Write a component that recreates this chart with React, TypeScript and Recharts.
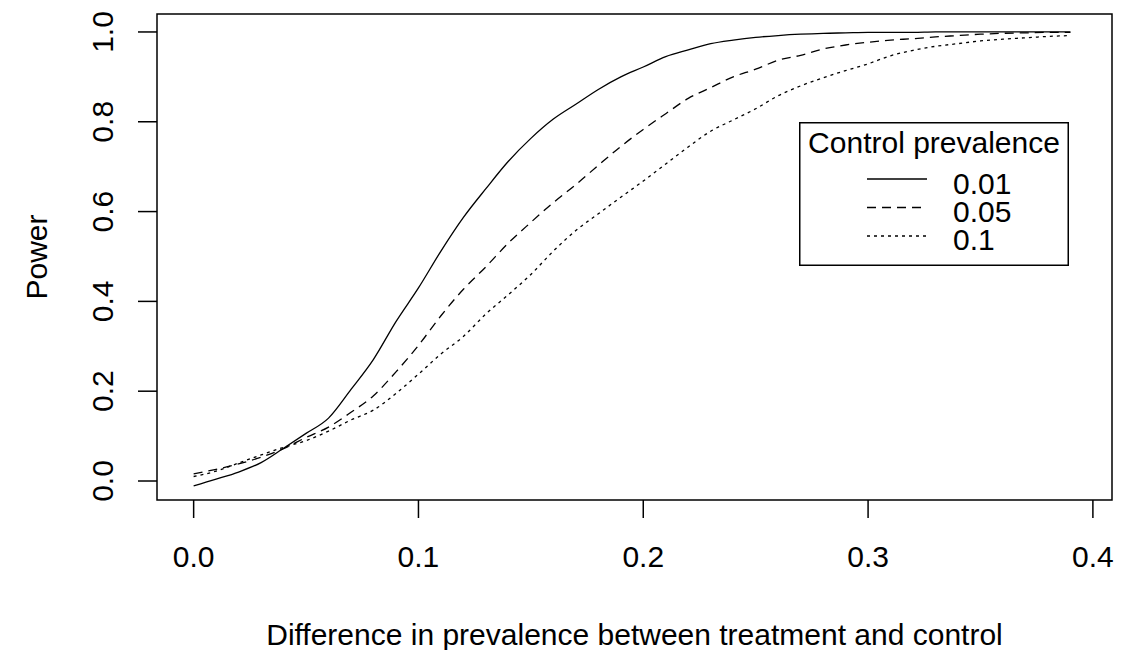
import { LineChart, Line, XAxis, YAxis, ReferenceArea, Legend } from 'recharts';

// difference in prevalence (treatment - control)
const DIFF = [
  0, 0.01, 0.02, 0.03, 0.04, 0.05, 0.06, 0.07, 0.08, 0.09,
  0.1, 0.11, 0.12, 0.13, 0.14, 0.15, 0.16, 0.17, 0.18, 0.19,
  0.2, 0.21, 0.22, 0.23, 0.24, 0.25, 0.26, 0.27, 0.28, 0.29,
  0.3, 0.31, 0.32, 0.33, 0.34, 0.35, 0.36, 0.37, 0.38, 0.39,
];

// power for control prevalence 0.01
const POWER_001 = [
  -0.011, 0.004, 0.02, 0.041, 0.073, 0.106, 0.14, 0.204, 0.271, 0.355,
  0.43, 0.512, 0.587, 0.651, 0.712, 0.763, 0.806, 0.839, 0.872, 0.9,
  0.922, 0.945, 0.96, 0.974, 0.982, 0.988, 0.992, 0.995, 0.997, 0.998,
  0.999, 0.999, 0.999, 1, 1, 1, 1, 1, 1, 1,
];

// power for control prevalence 0.05
const POWER_005 = [
  0.016, 0.026, 0.038, 0.053, 0.072, 0.097, 0.12, 0.153, 0.19, 0.243,
  0.302, 0.368, 0.427, 0.477, 0.53, 0.576, 0.62, 0.66, 0.703, 0.745,
  0.783, 0.818, 0.852, 0.876, 0.9, 0.917, 0.937, 0.948, 0.962, 0.971,
  0.977, 0.982, 0.985, 0.989, 0.992, 0.995, 0.997, 0.998, 0.999, 0.999,
];

// power for control prevalence 0.1
const POWER_01 = [
  0.01, 0.022, 0.04, 0.058, 0.075, 0.09, 0.111, 0.136, 0.158, 0.195,
  0.238, 0.283, 0.322, 0.372, 0.415, 0.46, 0.512, 0.558, 0.595, 0.632,
  0.668, 0.706, 0.744, 0.779, 0.804, 0.829, 0.858, 0.88, 0.898, 0.914,
  0.929, 0.947, 0.959, 0.968, 0.974, 0.98, 0.984, 0.987, 0.99, 0.992,
];

const X_TICKS = [0, 0.1, 0.2, 0.3, 0.4];
const Y_TICKS = [0, 0.2, 0.4, 0.6, 0.8, 1];

const SERIES = [
  { key: 'p001', label: '0.01', values: POWER_001, dash: undefined },
  { key: 'p005', label: '0.05', values: POWER_005, dash: '9 6' },
  { key: 'p01', label: '0.1', values: POWER_01, dash: '3 4' },
];

const data = DIFF.map((x, i) => {
  const row: Record<string, number> = { x };
  SERIES.forEach(s => { row[s.key] = s.values[i]; });
  return row;
});

const W = 1127;
const H = 650;
const PLOT_LEFT = 157;
const PLOT_TOP = 14;
const PLOT_RIGHT = 1112;
const PLOT_BOTTOM = 500;
const X_DOMAIN: [number, number] = [-0.0163, 0.4085];
const Y_DOMAIN: [number, number] = [-0.0423, 1.04];

const FONT = '"Liberation Sans", Arial, sans-serif';
const FS = 30;

function XTick(props: any) {
  const { x, payload } = props;
  return (
    <text x={x} y={PLOT_BOTTOM + 67} textAnchor="middle" fontFamily={FONT} fontSize={FS} fill="#000">
      {Number(payload.value).toFixed(1)}
    </text>
  );
}

function YTick(props: any) {
  const { y, payload } = props;
  return (
    <text
      transform={`translate(${PLOT_LEFT - 44}, ${y}) rotate(-90)`}
      textAnchor="middle"
      fontFamily={FONT}
      fontSize={FS}
      fill="#000"
    >
      {Number(payload.value).toFixed(1)}
    </text>
  );
}

function XTitle(props: any) {
  const { viewBox } = props;
  const cx = viewBox.x + viewBox.width / 2;
  return (
    <text x={cx} y={645} textAnchor="middle" fontFamily={FONT} fontSize={FS} fill="#000">
      Difference in prevalence between treatment and control
    </text>
  );
}

function YTitle() {
  const cy = (PLOT_TOP + PLOT_BOTTOM) / 2;
  return (
    <text transform={`translate(47, ${cy}) rotate(-90)`} textAnchor="middle" fontFamily={FONT} fontSize={FS} fill="#000">
      Power
    </text>
  );
}

function LegendBox() {
  return (
    <svg width={270} height={144} style={{ display: 'block' }}>
      <rect x={0.75} y={0.75} width={268.5} height={142.5} fill="#fff" stroke="#000" strokeWidth={1.5} />
      <text x={135} y={31} textAnchor="middle" fontFamily={FONT} fontSize={FS} fill="#000">
        Control prevalence
      </text>
      {SERIES.map((s, i) => (
        <g key={s.key}>
          <line
            x1={68}
            x2={128}
            y1={57 + i * 28.5}
            y2={57 + i * 28.5}
            stroke="#000"
            strokeWidth={1.3}
            strokeDasharray={s.dash}
          />
          <text x={154} y={72 + i * 28} fontFamily={FONT} fontSize={FS} fill="#000">
            {s.label}
          </text>
        </g>
      ))}
    </svg>
  );
}

export default function App() {
  return (
    <div style={{ position: 'absolute', left: 0, top: 0, width: W, height: H, background: '#fff' }}>
      <LineChart
        width={W}
        height={H}
        data={data}
        margin={{ top: PLOT_TOP, right: W - PLOT_RIGHT, left: 0, bottom: 0 }}
      >
        <XAxis
          type="number"
          dataKey="x"
          domain={X_DOMAIN}
          ticks={X_TICKS}
          allowDataOverflow
          height={H - PLOT_BOTTOM}
          axisLine={false}
          tickSize={18}
          tickLine={{ stroke: '#000', strokeWidth: 1.5 }}
          tick={<XTick />}
          interval={0}
          label={<XTitle />}
        />
        <YAxis
          type="number"
          domain={Y_DOMAIN}
          ticks={Y_TICKS}
          allowDataOverflow
          width={PLOT_LEFT}
          axisLine={false}
          tickSize={19}
          tickLine={{ stroke: '#000', strokeWidth: 1.5 }}
          tick={<YTick />}
          interval={0}
          label={<YTitle />}
        />
        <ReferenceArea
          x1={X_DOMAIN[0]}
          x2={X_DOMAIN[1]}
          y1={Y_DOMAIN[0]}
          y2={Y_DOMAIN[1]}
          fill="none"
          stroke="#000"
          strokeWidth={1.5}
          ifOverflow="visible"
        />
        {SERIES.map(s => (
          <Line
            key={s.key}
            dataKey={s.key}
            type="monotone"
            stroke="#000"
            strokeWidth={1.3}
            strokeDasharray={s.dash}
            dot={false}
            activeDot={false}
            isAnimationActive={false}
          />
        ))}
        <Legend
          layout="vertical"
          align="center"
          verticalAlign="middle"
          content={<LegendBox />}
          wrapperStyle={{ left: 799, top: 122, width: 270, height: 144 }}
        />
      </LineChart>
    </div>
  );
}
